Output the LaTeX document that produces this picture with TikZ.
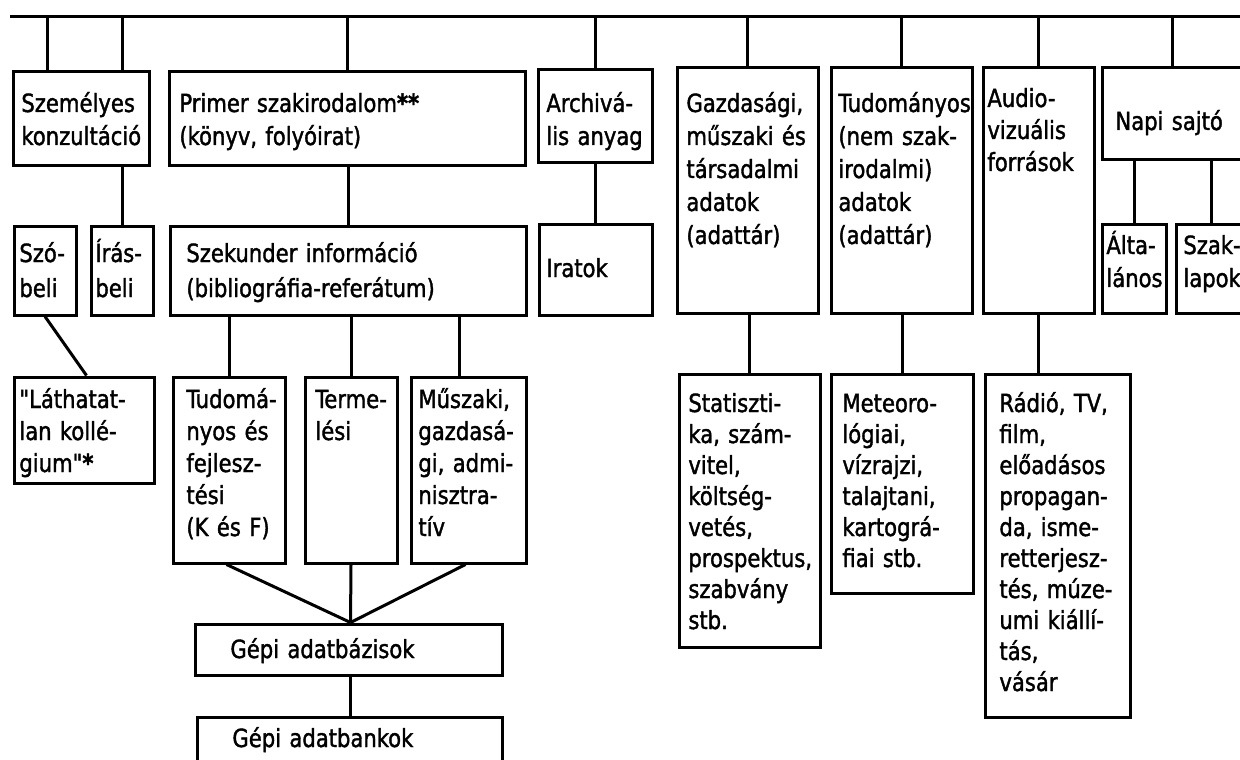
\documentclass[tikz,border=0pt]{standalone}
\usepackage{fontspec}
\setmainfont{DejaVu Sans Condensed}[FakeStretch=0.94,FakeBold=1.5]
\newfontface\plainq{DejaVu Sans Condensed}[FakeStretch=0.94,FakeBold=1.5]
\usetikzlibrary{fit,calc}
\tikzset{
  box/.style={draw, line width=1.5pt, inner sep=0pt, rectangle},
  ln/.style={line width=1.5pt},
  txt/.style={anchor=base west, inner sep=0pt, text width=300pt, align=left,
              font=\fontsize{12.5}{#1}\selectfont},
  txt/.default=16pt
}
\newcommand{\bx}[5]{\node[box, fit={(#2,#3) (#4,#5)}] (#1) {};}
\newcommand{\qq}{{\plainq "}}
\begin{document}
\begin{tikzpicture}[x=0.5pt,y=-0.5pt]
\useasboundingbox (0,0) rectangle (1240,759);
\fill[white] (0,0) rectangle (1240,759);
\clip (0,0) rectangle (1240,759);
% boxes
\bx{szem}{13}{72}{149}{166}
\bx{primer}{169}{72}{525}{166}
\bx{arch}{538}{70}{652}{163}
\bx{gazd}{677}{68}{818}{313}
\bx{tud}{831}{68}{972}{313}
\bx{audio}{983}{68}{1094}{313}
\bx{napi}{1102}{68}{1270}{160}
\bx{szob}{14}{226}{76}{315}
\bx{iras}{91}{226}{153}{315}
\bx{szek}{170}{226}{526}{315}
\bx{irat}{539}{224}{652}{315}
\bx{alt}{1102}{224}{1166}{313}
\bx{szak}{1176}{224}{1270}{313}
\bx{lath}{14}{377}{154}{483}
\bx{kf}{173}{377}{285}{563}
\bx{term}{305}{377}{397}{563}
\bx{musz}{411}{377}{526}{563}
\bx{stat}{679}{374}{820}{647}
\bx{met}{831}{374}{973}{593}
\bx{radio}{985}{374}{1130}{717}
\bx{gab}{195}{624}{502}{675}
\bx{gabank}{197}{717}{502}{790}
% texts
\node[txt=16.5pt] (szem-t) at (21,112) {Személyes\\konzultáció};
\node[txt=16.5pt] (primer-t) at (179,112) {Primer szakirodalom{\bfseries **}\\(könyv, folyóirat)};
\node[txt=16.5pt] (arch-t) at (546,112) {Archivá-\\lis anyag};
\node[txt=16.5pt] (gazd-t) at (686,112) {Gazdasági,\\műszaki és\\társadalmi\\adatok\\(adattár)};
\node[txt=16.5pt] (tud-t) at (838,112) {Tudományos\\(nem szak-\\irodalmi)\\adatok\\(adattár)};
\node[txt=16pt] (audio-t) at (987,107) {Audio-\\vizuális\\források};
\node[txt] (napi-t) at (1115,130) {Napi sajtó};
\node[txt=17.5pt] (szob-t) at (19,262) {Szó-\\beli};
\node[txt=17.5pt] (iras-t) at (95,262) {Írás-\\beli};
\node[txt=17.5pt] (szek-t) at (186,262) {Szekunder információ\\(bibliográfia-referátum)};
\node[txt] (irat-t) at (546,277) {Iratok};
\node[txt=16.5pt] (alt-t) at (1106,254) {Álta-\\lános};
\node[txt=16.5pt] (szak-t) at (1183,254) {Szak-\\lapok};
\node[txt] (lath-t) at (19,408) {\qq Láthatat-\\lan kollé-\\gium\qq{\bfseries *}};
\node[txt] (kf-t) at (186,408) {Tudomá-\\nyos és\\fejlesz-\\tési\\(K és F)};
\node[txt] (term-t) at (315,408) {Terme-\\lési};
\node[txt] (musz-t) at (418,408) {Műszaki,\\gazdasá-\\gi, admi-\\nisztra-\\tív};
\node[txt=15.5pt] (stat-t) at (688,412) {Statiszti-\\ka, szám-\\vitel,\\költség-\\vetés,\\prospektus,\\szabvány\\stb.};
\node[txt=15.5pt] (met-t) at (842,412) {Meteoro-\\lógiai,\\vízrajzi,\\talajtani,\\kartográ-\\fiai stb.};
\node[txt=15.5pt] (radio-t) at (999,412) {Rádió, TV,\\film,\\előadásos\\propagan-\\da, isme-\\retterjesz-\\tés, múze-\\umi kiállí-\\tás,\\vásár};
\node[txt] (gab-t) at (230,658) {Gépi adatbázisok};
\node[txt] (gabank-t) at (232,747) {Gépi adatbankok};
% top line
\coordinate (tl) at (10,17);
\coordinate (tr) at (1240,17);
\draw[ln] (tl) -- (tr);
\coordinate (t1) at (47,17);
\coordinate (t2) at (122,17);
\coordinate (t8) at (1172,17);
\draw[ln] (t1) -- (t1 |- szem.north);
\draw[ln] (t2) -- (t2 |- szem.north);
\draw[ln] (primer.north) -- (primer.north |- tl);
\draw[ln] (arch.north) -- (arch.north |- tl);
\draw[ln] (gazd.north) -- (gazd.north |- tl);
\draw[ln] (tud.north) -- (tud.north |- tl);
\draw[ln] (audio.north) -- (audio.north |- tl);
\draw[ln] (t8) -- (t8 |- napi.north);
% second level
\draw[ln] (iras.north) -- (iras.north |- szem.south);
\draw[ln] (szek.north) -- (szek.north |- primer.south);
\draw[ln] (irat.north) -- (irat.north |- arch.south);
\draw[ln] (alt.north) -- (alt.north |- napi.south);
\coordinate (s2) at ($(szak.north west)+(37,0)$);
\draw[ln] (s2) -- (s2 |- napi.south);
% third level
\coordinate (l1) at ($(lath.north west)+(74,0)$);
\draw[ln] (szob.south) -- (l1);
\draw[ln] (kf.north) -- (kf.north |- szek.south);
\draw[ln] (term.north) -- (term.north |- szek.south);
\coordinate (m1) at ($(musz.north west)+(50,0)$);
\draw[ln] (m1) -- (m1 |- szek.south);
\draw[ln] (stat.north) -- (stat.north |- gazd.south);
\draw[ln] (met.north) -- (met.north |- tud.south);
\draw[ln] (audio.south) -- (audio.south |- radio.north);
% to databases
\coordinate (g0) at ($(gab.north west)+(157,0)$);
\coordinate (k1) at ($(kf.south west)+(55,0)$);
\coordinate (m2) at ($(musz.south west)+(56,0)$);
\draw[ln] (k1) -- (g0);
\draw[ln] (term.south) -- (g0);
\draw[ln] (m2) -- (g0);
\draw[ln] (g0 |- gab.south) -- (g0 |- gabank.north);
\end{tikzpicture}
\end{document}
